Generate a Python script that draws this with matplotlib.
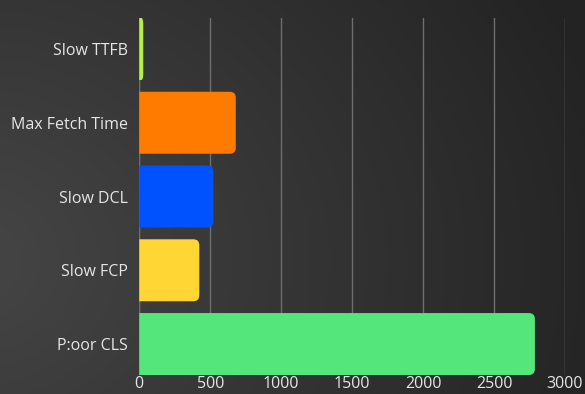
import numpy as np
import matplotlib
matplotlib.use("Agg")
import matplotlib.pyplot as plt
from matplotlib.path import Path
from matplotlib.patches import PathPatch

categories = ["Slow TTFB", "Max Fetch Time", "Slow DCL", "Slow FCP", "P:oor CLS"]
values = [28, 680, 522, 423, 2788]
colors = ["#b5f04a", "#ff7b00", "#0052ff", "#ffd634", "#54e67a"]
xticks = [0, 500, 1000, 1500, 2000, 2500, 3000]

plt.rcParams["font.family"] = ["Open Sans", "DejaVu Sans"]

fig = plt.figure(figsize=(5.85, 3.94), dpi=100)

# dark radial background, lighter towards the left
bg = fig.add_axes([0, 0, 1, 1], zorder=-10)
h, w = 394, 585
yy, xx = np.mgrid[0:h, 0:w]
d = np.sqrt(((xx + 40) / 640.0) ** 2 + ((yy - 260) / 520.0) ** 2)
shade = np.clip(0.275 - 0.13 * d, 0.14, 0.28)
bg.imshow(np.dstack([shade] * 3), aspect="auto", extent=[0, 1, 0, 1], origin="upper")
bg.axis("off")

ax = fig.add_axes([0.2381, 0.0482, 0.9658 - 0.2381, 0.9543 - 0.0482])
ax.set_facecolor("none")

bar_h = 0.84
ypos = np.arange(len(categories))
ax.set_xlim(0, 3000)
ax.set_ylim(len(categories) - 1 + bar_h / 2, -bar_h / 2)


def rounded_bar(ax, y, width, height, color, radius_px=6):
    # rounded right-hand corners, square on the axis side
    bbox = ax.get_window_extent()
    x0, x1 = ax.get_xlim()
    y0, y1 = ax.get_ylim()
    rx = radius_px * abs(x1 - x0) / bbox.width
    ry = radius_px * abs(y1 - y0) / bbox.height
    rx = min(rx, width * 0.5)
    ry = min(ry, height * 0.5)
    top, bot = y - height / 2, y + height / 2
    verts = [
        (0, top), (width - rx, top), (width, top), (width, top + ry),
        (width, bot - ry), (width, bot), (width - rx, bot),
        (0, bot), (0, top),
    ]
    codes = [Path.MOVETO, Path.LINETO, Path.CURVE3, Path.CURVE3,
             Path.LINETO, Path.CURVE3, Path.CURVE3,
             Path.LINETO, Path.CLOSEPOLY]
    ax.add_patch(PathPatch(Path(verts, codes), facecolor=color,
                           edgecolor="none", zorder=3))


for y, v, c in zip(ypos, values, colors):
    rounded_bar(ax, y, v, bar_h, c)

ax.set_xticks(xticks)
ax.set_yticks(ypos)
ax.set_yticklabels(categories)
ax.grid(axis="x", color="#6e6e6e", linewidth=1.0)
ax.set_axisbelow(True)
ax.axvline(0, color="#6e6e6e", linewidth=1.0, zorder=1)
for s in ax.spines.values():
    s.set_visible(False)
ax.tick_params(axis="both", length=0, colors="#e6e6e6", labelsize=11.5)
ax.tick_params(axis="y", pad=8)
ax.tick_params(axis="x", pad=1)

fig.savefig("out.png", dpi=100)
